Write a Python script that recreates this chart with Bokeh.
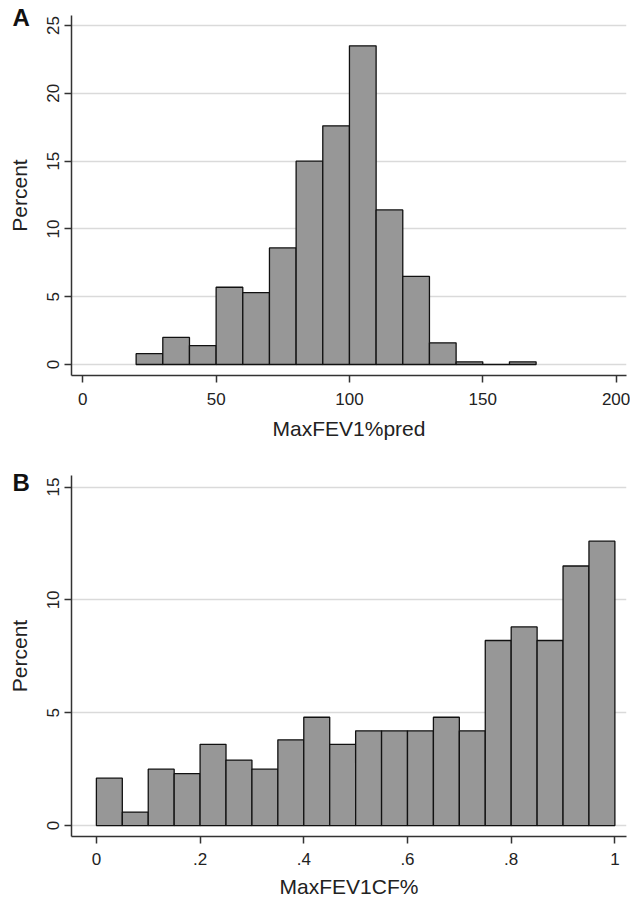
import numpy as np
from bokeh.plotting import figure
from bokeh.layouts import column
from bokeh.models import FixedTicker, Range1d
from bokeh.embed import file_html
from bokeh.resources import INLINE

# Panel A: MaxFEV1%pred histogram (bin width 10)
a_bin_left = [20, 30, 40, 50, 60, 70, 80, 90, 100, 110, 120, 130, 140, 150, 160]
a_bin_width = 10
a_percent = [0.8, 2.0, 1.4, 5.7, 5.3, 8.6, 15.0, 17.6, 23.5, 11.4, 6.5, 1.6, 0.2, 0.0, 0.2]
a_xticks = [0, 50, 100, 150, 200]
a_yticks = [0, 5, 10, 15, 20, 25]

# Panel B: MaxFEV1CF% histogram (bin width 0.05)
b_bin_left = [0.00, 0.05, 0.10, 0.15, 0.20, 0.25, 0.30, 0.35, 0.40, 0.45,
              0.50, 0.55, 0.60, 0.65, 0.70, 0.75, 0.80, 0.85, 0.90, 0.95]
b_bin_width = 0.05
b_percent = [2.1, 0.6, 2.5, 2.3, 3.6, 2.9, 2.5, 3.8, 4.8, 3.6,
             4.2, 4.2, 4.2, 4.8, 4.2, 8.2, 8.8, 8.2, 11.5, 12.6]
b_xticks = [0, 0.2, 0.4, 0.6, 0.8, 1.0]
b_xtick_labels = ["0", ".2", ".4", ".6", ".8", "1"]
b_yticks = [0, 5, 10, 15]

FONT = "Liberation Sans"
BAR_FILL = "#979797"
GRID = "#dadada"
AXIS = "#333333"


def style(p, xticks, yticks, xlabel, letter, letter_standoff):
    p.outline_line_color = None
    p.xgrid.grid_line_color = None
    p.ygrid.grid_line_color = GRID
    p.ygrid.grid_line_width = 1.5
    p.xaxis.ticker = FixedTicker(ticks=xticks)
    p.yaxis.ticker = FixedTicker(ticks=yticks)
    for ax in (p.xaxis[0], p.yaxis[0]):
        ax.axis_line_color = AXIS
        ax.axis_line_width = 1.5
        ax.major_tick_line_color = AXIS
        ax.major_tick_line_width = 1.5
        ax.major_tick_in = 0
        ax.major_tick_out = 7
        ax.minor_tick_line_color = None
        ax.major_label_text_font = FONT
        ax.major_label_text_font_size = "17px"
        ax.major_label_text_color = "#222222"
        ax.axis_label_text_font = FONT
        ax.axis_label_text_font_size = "21px"
        ax.axis_label_text_font_style = "normal"
        ax.axis_label_text_color = "#222222"
    p.xaxis.axis_label = xlabel
    p.xaxis.major_label_standoff = 10
    p.xaxis.axis_label_standoff = 9
    p.yaxis.axis_label = "Percent"
    p.yaxis.major_label_orientation = "vertical"
    p.yaxis.major_label_standoff = 5
    p.yaxis.axis_label_standoff = 14
    # panel letter drawn as the figure title, pulled into the left margin
    p.title.text = letter
    p.title.align = "left"
    p.title.offset = -59
    p.title.standoff = letter_standoff
    p.title.text_font = FONT
    p.title.text_font_size = "24px"
    p.title.text_font_style = "bold"
    p.title.text_color = "#111111"


# ---------- Panel A ----------
xa = Range1d(-4.24, 203.9)
ya = Range1d(-0.81, 25.74)
pa = figure(width=630, height=445, x_range=xa, y_range=ya,
            output_backend="svg", toolbar_location=None,
            min_border_left=71, min_border_right=4,
            min_border_top=15, min_border_bottom=70)
a_left = np.array(a_bin_left, dtype=float)
a_top = np.array(a_percent, dtype=float)
pa.quad(left=a_left, right=a_left + a_bin_width, bottom=0, top=a_top,
        fill_color=BAR_FILL, line_color="#111111", line_width=1.3)
style(pa, a_xticks, a_yticks, "MaxFEV1%pred", "A", -30)

# ---------- Panel B ----------
xb = Range1d(-0.048, 1.0224)
yb = Range1d(-0.484, 15.51)
pb = figure(width=630, height=457, x_range=xb, y_range=yb,
            output_backend="svg", toolbar_location=None,
            min_border_left=71, min_border_right=1,
            min_border_top=30, min_border_bottom=66)
b_left = np.array(b_bin_left, dtype=float)
b_top = np.array(b_percent, dtype=float)
pb.quad(left=b_left, right=b_left + b_bin_width, bottom=0, top=b_top,
        fill_color=BAR_FILL, line_color="#111111", line_width=1.3)
style(pb, b_xticks, b_yticks, "MaxFEV1CF%", "B", -40)
pb.xaxis.major_label_overrides = {t: s for t, s in zip(b_xticks, b_xtick_labels)}
pb.xaxis.major_label_standoff = 9
pb.xaxis.axis_label_standoff = 7

layout = column(pa, pb, spacing=0)
open("out.html", "w").write(file_html(layout, INLINE))
